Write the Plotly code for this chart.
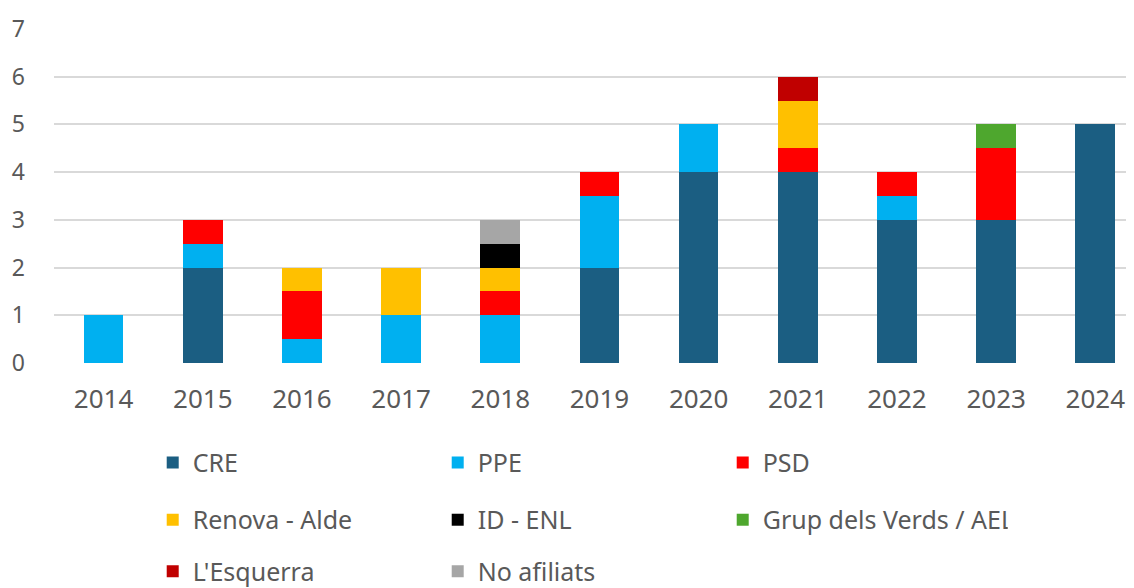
import plotly.graph_objects as go

years = ['2014', '2015', '2016', '2017', '2018', '2019', '2020', '2021', '2022', '2023', '2024']

cre = [0, 2, 0, 0, 0, 2, 4, 4, 3, 3, 5]
ppe = [1, 0.5, 0.5, 1, 1, 1.5, 1, 0, 0.5, 0, 0]
psd = [0, 0.5, 1, 0, 0.5, 0.5, 0, 0.5, 0.5, 1.5, 0]
renova = [0, 0, 0.5, 1, 0.5, 0, 0, 1, 0, 0, 0]
id_enl = [0, 0, 0, 0, 0.5, 0, 0, 0, 0, 0, 0]
verds = [0, 0, 0, 0, 0, 0, 0, 0, 0, 0.5, 0]
esquerra = [0, 0, 0, 0, 0, 0, 0, 0.5, 0, 0, 0]
no_afiliats = [0, 0, 0, 0, 0.5, 0, 0, 0, 0, 0, 0]

series = [
    ('CRE', cre, '#1B5E82', 'legend'),
    ('PPE', ppe, '#00B0F0', 'legend'),
    ('PSD', psd, '#FF0000', 'legend'),
    ('Renova - Alde', renova, '#FFC000', 'legend2'),
    ('ID - ENL', id_enl, '#000000', 'legend2'),
    ('Grup dels Verds / AEL', verds, '#4EA72E', 'legend2'),
    ("L'Esquerra", esquerra, '#C00000', 'legend3'),
    ('No afiliats', no_afiliats, '#A6A6A6', 'legend3'),
]

font_family = 'Noto Sans'
text_color = '#595959'

fig = go.Figure()
for name, vals, color, leg in series:
    fig.add_trace(go.Bar(x=years, y=vals, name=name,
                         marker_color=color,
                         marker_line_width=0,
                         legend=leg))

# one legend per row so the rows can be spaced like the original
legend_common = dict(orientation='h',
                     x=0.0914, xanchor='left',
                     yanchor='middle',
                     entrywidth=240,
                     font=dict(family=font_family, size=25, color=text_color),
                     bgcolor='rgba(0,0,0,0)',
                     traceorder='normal')

# page body has an 8px margin, so the margins here are 8px smaller on left/top
fig.update_layout(
    width=1134, height=588,
    margin=dict(l=46, r=8, t=21, b=233, autoexpand=False),
    barmode='stack',
    bargap=0.6,
    plot_bgcolor='white',
    paper_bgcolor='white',
    font=dict(family=font_family, color=text_color),
    showlegend=True,
    legend=dict(legend_common, y=-0.299),
    legend2=dict(legend_common, y=-0.470),
    legend3=dict(legend_common, y=-0.624),
    xaxis=dict(range=[-0.5, 10.39],
               showgrid=False, zeroline=False, showline=False,
               automargin=False,
               ticks='', ticklabelstandoff=18,
               tickfont=dict(size=26, color=text_color)),
    yaxis=dict(range=[0, 7], dtick=1,
               showgrid=True, gridcolor='#D9D9D9', gridwidth=2,
               zeroline=False, showline=False,
               automargin=False,
               ticks='', ticklabelstandoff=28,
               tickfont=dict(size=23, color=text_color)),
)

fig.write_html("out.html")
